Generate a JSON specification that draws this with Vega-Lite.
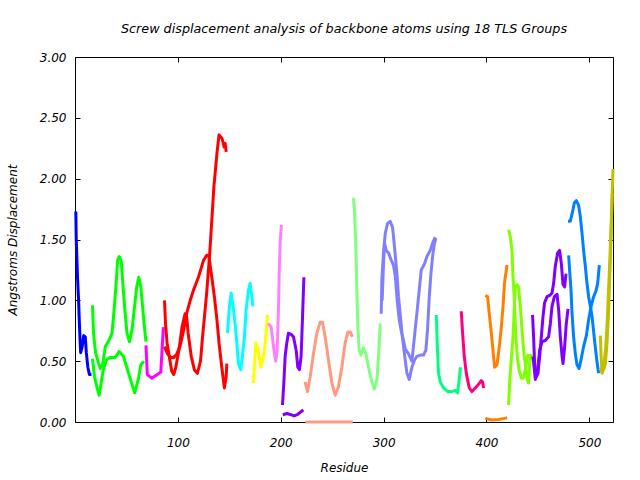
{
  "$schema": "https://vega.github.io/schema/vega-lite/v6.json",
  "autosize": "none",
  "width": 538,
  "height": 365,
  "padding": {"left": 75, "top": 57, "right": 27, "bottom": 58},
  "background": "white",
  "view": {"stroke": "black", "strokeWidth": 1},
  "title": {
    "text": "Screw displacement analysis of backbone atoms using 18 TLS Groups",
    "font": "DejaVu Sans", "fontSize": 12.75, "fontStyle": "italic", "fontWeight": "normal",
    "color": "black", "anchor": "middle", "offset": 15
  },
  "data": {"values": [
    {"g":1,"s":"a","r":0.8,"v":1.73},{"g":1,"s":"a","r":1.2,"v":1.50},{"g":1,"s":"a","r":2.5,"v":1.18},{"g":1,"s":"a","r":3.5,"v":1.00},{"g":1,"s":"a","r":4,"v":0.87},{"g":1,"s":"a","r":5,"v":0.66},{"g":1,"s":"a","r":5.5,"v":0.57},{"g":1,"s":"a","r":7,"v":0.62},{"g":1,"s":"a","r":8.5,"v":0.71},{"g":1,"s":"a","r":10,"v":0.70},{"g":1,"s":"a","r":11,"v":0.57},{"g":1,"s":"a","r":12.5,"v":0.45},{"g":1,"s":"a","r":14,"v":0.39},{"g":1,"s":"a","r":16,"v":0.39},

    {"g":2,"s":"a","r":17,"v":0.96},{"g":2,"s":"a","r":18,"v":0.73},{"g":2,"s":"a","r":20,"v":0.57},{"g":2,"s":"a","r":23,"v":0.48},{"g":2,"s":"a","r":24.5,"v":0.44},{"g":2,"s":"a","r":27,"v":0.48},{"g":2,"s":"a","r":29.5,"v":0.62},{"g":2,"s":"a","r":33,"v":0.67},{"g":2,"s":"a","r":36,"v":0.73},{"g":2,"s":"a","r":38,"v":0.92},{"g":2,"s":"a","r":40,"v":1.14},{"g":2,"s":"a","r":41.5,"v":1.33},{"g":2,"s":"a","r":43,"v":1.36},{"g":2,"s":"a","r":45,"v":1.32},{"g":2,"s":"a","r":46.5,"v":1.14},{"g":2,"s":"a","r":48.5,"v":0.92},{"g":2,"s":"a","r":50.5,"v":0.73},{"g":2,"s":"a","r":53,"v":0.66},{"g":2,"s":"a","r":55.5,"v":0.76},{"g":2,"s":"a","r":57.5,"v":0.92},{"g":2,"s":"a","r":60,"v":1.11},{"g":2,"s":"a","r":62,"v":1.19},{"g":2,"s":"a","r":64,"v":1.11},{"g":2,"s":"a","r":66,"v":0.92},{"g":2,"s":"a","r":67.5,"v":0.78},{"g":2,"s":"a","r":69,"v":0.66},
    {"g":2,"s":"b","r":17,"v":0.52},{"g":2,"s":"b","r":19,"v":0.37},{"g":2,"s":"b","r":21.5,"v":0.28},{"g":2,"s":"b","r":23.5,"v":0.22},{"g":2,"s":"b","r":27.5,"v":0.43},{"g":2,"s":"b","r":30.5,"v":0.51},{"g":2,"s":"b","r":34,"v":0.53},{"g":2,"s":"b","r":39,"v":0.53},{"g":2,"s":"b","r":43,"v":0.58},{"g":2,"s":"b","r":47,"v":0.54},{"g":2,"s":"b","r":51,"v":0.43},{"g":2,"s":"b","r":55,"v":0.32},{"g":2,"s":"b","r":58,"v":0.24},{"g":2,"s":"b","r":61.5,"v":0.35},{"g":2,"s":"b","r":64,"v":0.47},{"g":2,"s":"b","r":67,"v":0.50},

    {"g":3,"s":"a","r":69,"v":0.63},{"g":3,"s":"a","r":70.3,"v":0.39},{"g":3,"s":"a","r":74.6,"v":0.36},{"g":3,"s":"a","r":80,"v":0.39},{"g":3,"s":"a","r":83.4,"v":0.41},{"g":3,"s":"a","r":84.6,"v":0.59},{"g":3,"s":"a","r":85.9,"v":0.78},

    {"g":4,"s":"a","r":87,"v":1.00},{"g":4,"s":"a","r":88,"v":0.81},{"g":4,"s":"a","r":89.5,"v":0.65},{"g":4,"s":"a","r":92,"v":0.52},{"g":4,"s":"a","r":94,"v":0.42},{"g":4,"s":"a","r":96,"v":0.39},{"g":4,"s":"a","r":98,"v":0.45},{"g":4,"s":"a","r":101,"v":0.59},{"g":4,"s":"a","r":104,"v":0.78},{"g":4,"s":"a","r":107,"v":0.89},{"g":4,"s":"a","r":108.5,"v":0.87},{"g":4,"s":"a","r":110,"v":0.73},{"g":4,"s":"a","r":113,"v":0.54},{"g":4,"s":"a","r":116,"v":0.43},{"g":4,"s":"a","r":119,"v":0.40},{"g":4,"s":"a","r":122,"v":0.50},{"g":4,"s":"a","r":124,"v":0.70},{"g":4,"s":"a","r":128,"v":1.06},{"g":4,"s":"a","r":131,"v":1.39},{"g":4,"s":"a","r":133,"v":1.66},{"g":4,"s":"a","r":135,"v":1.93},{"g":4,"s":"a","r":138,"v":2.21},{"g":4,"s":"a","r":140,"v":2.36},{"g":4,"s":"a","r":143,"v":2.33},{"g":4,"s":"a","r":145,"v":2.26},{"g":4,"s":"a","r":146,"v":2.29},{"g":4,"s":"a","r":147,"v":2.22},
    {"g":4,"s":"b","r":87,"v":0.62},{"g":4,"s":"b","r":90,"v":0.56},{"g":4,"s":"b","r":93,"v":0.53},{"g":4,"s":"b","r":96,"v":0.53},{"g":4,"s":"b","r":99,"v":0.56},{"g":4,"s":"b","r":102,"v":0.62},{"g":4,"s":"b","r":105,"v":0.73},{"g":4,"s":"b","r":108.5,"v":0.89},{"g":4,"s":"b","r":112,"v":1.00},{"g":4,"s":"b","r":115,"v":1.08},{"g":4,"s":"b","r":120,"v":1.19},{"g":4,"s":"b","r":125,"v":1.33},{"g":4,"s":"b","r":128,"v":1.37},{"g":4,"s":"b","r":130,"v":1.37},{"g":4,"s":"b","r":133,"v":1.19},{"g":4,"s":"b","r":135.5,"v":1.03},{"g":4,"s":"b","r":138,"v":0.84},{"g":4,"s":"b","r":140,"v":0.65},{"g":4,"s":"b","r":142.7,"v":0.45},{"g":4,"s":"b","r":145.2,"v":0.28},{"g":4,"s":"b","r":146.9,"v":0.37},{"g":4,"s":"b","r":147.6,"v":0.48},

    {"g":5,"s":"a","r":148.2,"v":0.73},{"g":5,"s":"a","r":150.1,"v":0.95},{"g":5,"s":"a","r":151.8,"v":1.06},{"g":5,"s":"a","r":153.4,"v":0.97},{"g":5,"s":"a","r":155.6,"v":0.81},{"g":5,"s":"a","r":157.3,"v":0.65},{"g":5,"s":"a","r":158.9,"v":0.48},{"g":5,"s":"a","r":161.2,"v":0.43},{"g":5,"s":"a","r":162.7,"v":0.54},{"g":5,"s":"a","r":164.7,"v":0.70},{"g":5,"s":"a","r":166.3,"v":0.92},{"g":5,"s":"a","r":168.6,"v":1.08},{"g":5,"s":"a","r":170.2,"v":1.14},{"g":5,"s":"a","r":171.9,"v":1.03},{"g":5,"s":"a","r":172.9,"v":0.95},

    {"g":6,"s":"a","r":173.4,"v":0.32},{"g":6,"s":"a","r":174.4,"v":0.45},{"g":6,"s":"a","r":175.8,"v":0.65},{"g":6,"s":"a","r":177.3,"v":0.62},{"g":6,"s":"a","r":179,"v":0.54},{"g":6,"s":"a","r":180.6,"v":0.45},{"g":6,"s":"a","r":182.6,"v":0.51},{"g":6,"s":"a","r":184.1,"v":0.59},{"g":6,"s":"a","r":185.8,"v":0.73},{"g":6,"s":"a","r":187.1,"v":0.88},

    {"g":7,"s":"a","r":188,"v":0.81},{"g":7,"s":"a","r":190.7,"v":0.78},{"g":7,"s":"a","r":192.3,"v":0.67},{"g":7,"s":"a","r":193.9,"v":0.56},{"g":7,"s":"a","r":195.2,"v":0.50},{"g":7,"s":"a","r":196.5,"v":0.59},{"g":7,"s":"a","r":197.8,"v":0.92},{"g":7,"s":"a","r":198.7,"v":1.30},{"g":7,"s":"a","r":199.7,"v":1.52},{"g":7,"s":"a","r":200.7,"v":1.62},

    {"g":8,"s":"a","r":201.7,"v":0.14},{"g":8,"s":"a","r":203,"v":0.32},{"g":8,"s":"a","r":204.3,"v":0.54},{"g":8,"s":"a","r":205.9,"v":0.65},{"g":8,"s":"a","r":207.5,"v":0.73},{"g":8,"s":"a","r":210.1,"v":0.72},{"g":8,"s":"a","r":212.4,"v":0.70},{"g":8,"s":"a","r":215,"v":0.59},{"g":8,"s":"a","r":216.6,"v":0.45},{"g":8,"s":"a","r":218.2,"v":0.43},{"g":8,"s":"a","r":219.8,"v":0.54},{"g":8,"s":"a","r":221.1,"v":0.84},{"g":8,"s":"a","r":222.5,"v":1.19},
    {"g":8,"s":"b","r":202,"v":0.06},{"g":8,"s":"b","r":206,"v":0.07},{"g":8,"s":"b","r":210,"v":0.06},{"g":8,"s":"b","r":213,"v":0.05},{"g":8,"s":"b","r":216,"v":0.06},{"g":8,"s":"b","r":219,"v":0.08},{"g":8,"s":"b","r":222,"v":0.10},

    {"g":9,"s":"a","r":223.7,"v":0.33},{"g":9,"s":"a","r":226,"v":0.25},{"g":9,"s":"a","r":228.6,"v":0.37},{"g":9,"s":"a","r":231.8,"v":0.56},{"g":9,"s":"a","r":235.1,"v":0.73},{"g":9,"s":"a","r":238.3,"v":0.82},{"g":9,"s":"a","r":240.6,"v":0.82},{"g":9,"s":"a","r":243.2,"v":0.70},{"g":9,"s":"a","r":246.4,"v":0.51},{"g":9,"s":"a","r":249.7,"v":0.32},{"g":9,"s":"a","r":252.9,"v":0.22},{"g":9,"s":"a","r":256.1,"v":0.29},{"g":9,"s":"a","r":259.4,"v":0.45},{"g":9,"s":"a","r":262.6,"v":0.65},{"g":9,"s":"a","r":265.3,"v":0.74},{"g":9,"s":"a","r":267.5,"v":0.74},{"g":9,"s":"a","r":269.7,"v":0.70},
    {"g":9,"s":"b","r":224,"v":0.0},{"g":9,"s":"b","r":247,"v":0.0},{"g":9,"s":"b","r":270,"v":0.0},

    {"g":10,"s":"a","r":270.7,"v":1.84},{"g":10,"s":"a","r":271.7,"v":1.74},{"g":10,"s":"a","r":273,"v":1.44},{"g":10,"s":"a","r":274,"v":1.08},{"g":10,"s":"a","r":275,"v":0.78},{"g":10,"s":"a","r":276.3,"v":0.59},{"g":10,"s":"a","r":277.9,"v":0.55},{"g":10,"s":"a","r":280.4,"v":0.61},{"g":10,"s":"a","r":282.8,"v":0.56},{"g":10,"s":"a","r":285.3,"v":0.45},{"g":10,"s":"a","r":287.9,"v":0.35},{"g":10,"s":"a","r":290.9,"v":0.27},{"g":10,"s":"a","r":293.5,"v":0.35},{"g":10,"s":"a","r":295.1,"v":0.54},{"g":10,"s":"a","r":296.7,"v":0.81},

    {"g":11,"s":"a","r":297.7,"v":0.89},{"g":11,"s":"a","r":298.3,"v":1.17},{"g":11,"s":"a","r":299.9,"v":1.39},{"g":11,"s":"a","r":301.6,"v":1.55},{"g":11,"s":"a","r":303.8,"v":1.63},{"g":11,"s":"a","r":306.4,"v":1.65},{"g":11,"s":"a","r":308.7,"v":1.60},{"g":11,"s":"a","r":310.6,"v":1.44},{"g":11,"s":"a","r":312.9,"v":1.22},{"g":11,"s":"a","r":314.5,"v":1.03},{"g":11,"s":"a","r":316.1,"v":0.89},{"g":11,"s":"a","r":317.8,"v":0.73},{"g":11,"s":"a","r":319.4,"v":0.62},{"g":11,"s":"a","r":321,"v":0.51},{"g":11,"s":"a","r":322.7,"v":0.40},{"g":11,"s":"a","r":324.9,"v":0.35},{"g":11,"s":"a","r":327.5,"v":0.45},{"g":11,"s":"a","r":330.1,"v":0.51},{"g":11,"s":"a","r":332.4,"v":0.54},{"g":11,"s":"a","r":335.6,"v":0.55},{"g":11,"s":"a","r":338.8,"v":0.55},{"g":11,"s":"a","r":341.1,"v":0.59},{"g":11,"s":"a","r":342.7,"v":0.76},{"g":11,"s":"a","r":344.4,"v":1.03},{"g":11,"s":"a","r":346,"v":1.22},{"g":11,"s":"a","r":347.6,"v":1.36},{"g":11,"s":"a","r":349.5,"v":1.47},{"g":11,"s":"a","r":350.9,"v":1.51},
    {"g":11,"s":"b","r":298.6,"v":1.00},{"g":11,"s":"b","r":299.9,"v":1.30},{"g":11,"s":"b","r":300.9,"v":1.47},{"g":11,"s":"b","r":302.5,"v":1.41},{"g":11,"s":"b","r":304.8,"v":1.39},{"g":11,"s":"b","r":307.4,"v":1.33},{"g":11,"s":"b","r":309.6,"v":1.29},{"g":11,"s":"b","r":311.3,"v":1.20},{"g":11,"s":"b","r":313.2,"v":1.00},{"g":11,"s":"b","r":315.2,"v":0.84},{"g":11,"s":"b","r":317.1,"v":0.75},{"g":11,"s":"b","r":319.4,"v":0.67},{"g":11,"s":"b","r":321,"v":0.60},{"g":11,"s":"b","r":324.2,"v":0.56},{"g":11,"s":"b","r":327.5,"v":0.50},{"g":11,"s":"b","r":330.7,"v":0.76},{"g":11,"s":"b","r":334,"v":1.03},{"g":11,"s":"b","r":336.6,"v":1.25},{"g":11,"s":"b","r":339.8,"v":1.30},{"g":11,"s":"b","r":342.1,"v":1.36},{"g":11,"s":"b","r":345.3,"v":1.41},{"g":11,"s":"b","r":347.6,"v":1.47},{"g":11,"s":"b","r":350.2,"v":1.52},

    {"g":12,"s":"a","r":351.2,"v":0.88},{"g":12,"s":"a","r":352.1,"v":0.65},{"g":12,"s":"a","r":353.4,"v":0.40},{"g":12,"s":"a","r":355.1,"v":0.33},{"g":12,"s":"a","r":358.3,"v":0.28},{"g":12,"s":"a","r":362.5,"v":0.25},{"g":12,"s":"a","r":366.4,"v":0.25},{"g":12,"s":"a","r":369.6,"v":0.26},{"g":12,"s":"a","r":371.9,"v":0.24},{"g":12,"s":"a","r":373.5,"v":0.35},{"g":12,"s":"a","r":374.8,"v":0.45},

    {"g":13,"s":"a","r":375.5,"v":0.91},{"g":13,"s":"a","r":376.8,"v":0.73},{"g":13,"s":"a","r":378.4,"v":0.54},{"g":13,"s":"a","r":380.4,"v":0.40},{"g":13,"s":"a","r":383.3,"v":0.28},{"g":13,"s":"a","r":385.9,"v":0.25},{"g":13,"s":"a","r":389.1,"v":0.28},{"g":13,"s":"a","r":392.3,"v":0.31},{"g":13,"s":"a","r":394.9,"v":0.34},{"g":13,"s":"a","r":396.2,"v":0.33},{"g":13,"s":"a","r":397.2,"v":0.28},

    {"g":14,"s":"a","r":398.8,"v":1.04},{"g":14,"s":"a","r":401.1,"v":1.03},{"g":14,"s":"a","r":402.7,"v":0.89},{"g":14,"s":"a","r":404.4,"v":0.76},{"g":14,"s":"a","r":406.3,"v":0.59},{"g":14,"s":"a","r":407.9,"v":0.45},{"g":14,"s":"a","r":410.2,"v":0.47},{"g":14,"s":"a","r":412.5,"v":0.62},{"g":14,"s":"a","r":414.4,"v":0.78},{"g":14,"s":"a","r":416.1,"v":0.95},{"g":14,"s":"a","r":417.6,"v":1.15},{"g":14,"s":"a","r":420,"v":1.29},
    {"g":14,"s":"b","r":398.8,"v":0.03},{"g":14,"s":"b","r":405,"v":0.016},{"g":14,"s":"b","r":411.5,"v":0.02},{"g":14,"s":"b","r":417.6,"v":0.03},{"g":14,"s":"b","r":420,"v":0.035},

    {"g":15,"s":"a","r":421.5,"v":1.58},{"g":15,"s":"a","r":423.2,"v":1.52},{"g":15,"s":"a","r":424.8,"v":1.41},{"g":15,"s":"a","r":425.8,"v":1.19},{"g":15,"s":"a","r":427,"v":1.03},{"g":15,"s":"a","r":428,"v":0.81},{"g":15,"s":"a","r":429,"v":0.65},{"g":15,"s":"a","r":430.2,"v":0.51},{"g":15,"s":"a","r":432.2,"v":0.41},{"g":15,"s":"a","r":433.9,"v":0.36},{"g":15,"s":"a","r":435.6,"v":0.36},{"g":15,"s":"a","r":436.8,"v":0.39},{"g":15,"s":"a","r":438.7,"v":0.48},{"g":15,"s":"a","r":440.4,"v":0.56},
    {"g":15,"s":"b","r":421.5,"v":0.14},{"g":15,"s":"b","r":422.5,"v":0.32},{"g":15,"s":"b","r":423.8,"v":0.48},{"g":15,"s":"b","r":425.8,"v":0.70},{"g":15,"s":"b","r":427,"v":0.92},{"g":15,"s":"b","r":428,"v":1.11},{"g":15,"s":"b","r":429.7,"v":1.13},{"g":15,"s":"b","r":431.2,"v":1.11},{"g":15,"s":"b","r":432.9,"v":0.95},{"g":15,"s":"b","r":434.5,"v":0.76},{"g":15,"s":"b","r":436.1,"v":0.59},{"g":15,"s":"b","r":437.7,"v":0.48},{"g":15,"s":"b","r":439.4,"v":0.35},{"g":15,"s":"b","r":440.9,"v":0.32},{"g":15,"s":"b","r":441.9,"v":0.48},{"g":15,"s":"b","r":443.3,"v":0.56},

    {"g":16,"s":"a","r":444.8,"v":0.88},{"g":16,"s":"a","r":445.8,"v":0.70},{"g":16,"s":"a","r":446.8,"v":0.48},{"g":16,"s":"a","r":448.4,"v":0.37},{"g":16,"s":"a","r":450.1,"v":0.40},{"g":16,"s":"a","r":451.7,"v":0.54},{"g":16,"s":"a","r":453.3,"v":0.70},{"g":16,"s":"a","r":455,"v":0.87},{"g":16,"s":"a","r":456.5,"v":0.98},{"g":16,"s":"a","r":458.9,"v":1.03},{"g":16,"s":"a","r":461.4,"v":1.04},{"g":16,"s":"a","r":463.7,"v":1.06},{"g":16,"s":"a","r":465.3,"v":1.14},{"g":16,"s":"a","r":466.9,"v":1.28},{"g":16,"s":"a","r":469.2,"v":1.39},{"g":16,"s":"a","r":471.1,"v":1.41},{"g":16,"s":"a","r":472.8,"v":1.30},{"g":16,"s":"a","r":474.4,"v":1.13},{"g":16,"s":"a","r":476,"v":1.11},{"g":16,"s":"a","r":477.3,"v":1.22},
    {"g":16,"s":"b","r":445.2,"v":0.54},{"g":16,"s":"b","r":447.5,"v":0.35},{"g":16,"s":"b","r":449.7,"v":0.43},{"g":16,"s":"b","r":451.7,"v":0.59},{"g":16,"s":"b","r":454.1,"v":0.66},{"g":16,"s":"b","r":457.2,"v":0.67},{"g":16,"s":"b","r":460.4,"v":0.70},{"g":16,"s":"b","r":462.1,"v":0.81},{"g":16,"s":"b","r":463.7,"v":0.95},{"g":16,"s":"b","r":466,"v":1.03},{"g":16,"s":"b","r":468.6,"v":1.05},{"g":16,"s":"b","r":470.2,"v":0.92},{"g":16,"s":"b","r":471.8,"v":0.70},{"g":16,"s":"b","r":473.5,"v":0.54},{"g":16,"s":"b","r":474.4,"v":0.48},{"g":16,"s":"b","r":476,"v":0.62},{"g":16,"s":"b","r":477.6,"v":0.81},{"g":16,"s":"b","r":479.3,"v":0.93},

    {"g":17,"s":"a","r":479.3,"v":1.65},{"g":17,"s":"a","r":481.5,"v":1.65},{"g":17,"s":"a","r":483.2,"v":1.71},{"g":17,"s":"a","r":485.4,"v":1.80},{"g":17,"s":"a","r":487.4,"v":1.82},{"g":17,"s":"a","r":489.6,"v":1.78},{"g":17,"s":"a","r":491.2,"v":1.69},{"g":17,"s":"a","r":492.9,"v":1.55},{"g":17,"s":"a","r":494.4,"v":1.41},{"g":17,"s":"a","r":496.1,"v":1.28},{"g":17,"s":"a","r":497.7,"v":1.14},{"g":17,"s":"a","r":499.3,"v":1.03},{"g":17,"s":"a","r":501,"v":0.95},{"g":17,"s":"a","r":502.6,"v":0.87},{"g":17,"s":"a","r":505.2,"v":0.66},{"g":17,"s":"a","r":506.8,"v":0.54},{"g":17,"s":"a","r":508.5,"v":0.43},{"g":17,"s":"a","r":509.1,"v":0.40},
    {"g":17,"s":"b","r":479.9,"v":1.37},{"g":17,"s":"b","r":480.8,"v":1.25},{"g":17,"s":"b","r":482.2,"v":1.08},{"g":17,"s":"b","r":483.2,"v":0.89},{"g":17,"s":"b","r":484.7,"v":0.70},{"g":17,"s":"b","r":486.4,"v":0.56},{"g":17,"s":"b","r":488,"v":0.47},{"g":17,"s":"b","r":490,"v":0.44},{"g":17,"s":"b","r":491.9,"v":0.51},{"g":17,"s":"b","r":494.4,"v":0.62},{"g":17,"s":"b","r":497.1,"v":0.71},{"g":17,"s":"b","r":499.3,"v":0.84},{"g":17,"s":"b","r":501.7,"v":0.95},{"g":17,"s":"b","r":504.2,"v":1.03},{"g":17,"s":"b","r":506.5,"v":1.08},{"g":17,"s":"b","r":508.1,"v":1.14},{"g":17,"s":"b","r":509.7,"v":1.29},

    {"g":18,"s":"a","r":510.7,"v":0.71},{"g":18,"s":"a","r":511.4,"v":0.54},{"g":18,"s":"a","r":512.4,"v":0.41},{"g":18,"s":"a","r":513.9,"v":0.43},{"g":18,"s":"a","r":515.6,"v":0.48},{"g":18,"s":"a","r":517.2,"v":0.65},{"g":18,"s":"a","r":518.8,"v":0.92},{"g":18,"s":"a","r":520.4,"v":1.33},{"g":18,"s":"a","r":522.1,"v":1.85},{"g":18,"s":"a","r":523,"v":2.08},
    {"g":18,"s":"b","r":510.7,"v":0.45},{"g":18,"s":"b","r":512.4,"v":0.40},{"g":18,"s":"b","r":514.5,"v":0.50},{"g":18,"s":"b","r":516,"v":0.62},{"g":18,"s":"b","r":517.5,"v":0.85},{"g":18,"s":"b","r":519,"v":1.15},{"g":18,"s":"b","r":520.5,"v":1.45},{"g":18,"s":"b","r":521.5,"v":1.70},{"g":18,"s":"b","r":522.3,"v":1.88}
  ]},
  "layer": [
    {
      "mark": {"type": "line", "strokeWidth": 3, "strokeJoin": "round", "strokeCap": "butt"},
      "encoding": {
        "x": {"field": "r", "type": "quantitative",
          "scale": {"domain": [0, 523], "nice": false, "zero": false},
          "axis": {"title": "Residue", "values": [100, 200, 300, 400, 500], "format": "d", "grid": false, "domain": false,
            "tickSize": -5, "tickColor": "black", "labelPadding": 20,
            "labelFont": "DejaVu Sans", "labelFontSize": 12, "labelFontStyle": "italic", "labelColor": "black",
            "titleFont": "DejaVu Sans", "titleFontSize": 12, "titleFontStyle": "italic", "titleFontWeight": "normal", "titleColor": "black", "titlePadding": 14}},
        "y": {"field": "v", "type": "quantitative",
          "scale": {"domain": [0, 3], "nice": false},
          "axis": {"title": "Angstroms Displacement", "values": [0, 0.5, 1, 1.5, 2, 2.5, 3], "format": ".2f", "grid": false, "domain": false,
            "tickSize": -5, "tickColor": "black", "labelPadding": 14,
            "labelFont": "DejaVu Sans", "labelFontSize": 12, "labelFontStyle": "italic", "labelColor": "black",
            "titleFont": "DejaVu Sans", "titleFontSize": 12, "titleFontStyle": "italic", "titleFontWeight": "normal", "titleColor": "black", "titlePadding": 20}},
        "color": {"field": "g", "type": "nominal", "legend": null,
          "scale": {"domain": [1,2,3,4,5,6,7,8,9,10,11,12,13,14,15,16,17,18],
            "range": ["#0000ff","#00ff00","#ff00ff","#ff0000","#00ffff","#ffff00","#ff80ff","#8000ff","#ff9980","#80ff80","#8080ff","#00ff80","#ff0080","#ff8000","#80ff00","#8000ff","#0080ff","#c0c000"]}},
        "detail": [{"field": "g", "type": "nominal"}, {"field": "s", "type": "nominal"}]
      }
    },
    {
      "mark": {"type": "line", "strokeOpacity": 0},
      "encoding": {
        "x": {"field": "r", "type": "quantitative",
          "scale": {"domain": [0, 523], "nice": false, "zero": false},
          "axis": {"orient": "top", "title": null, "labels": false, "values": [100, 200, 300, 400, 500], "grid": false, "domain": false, "tickSize": -5, "tickColor": "black"}},
        "y": {"field": "v", "type": "quantitative",
          "scale": {"domain": [0, 3], "nice": false},
          "axis": {"orient": "right", "title": null, "labels": false, "values": [0, 0.5, 1, 1.5, 2, 2.5, 3], "grid": false, "domain": false, "tickSize": -5, "tickColor": "black"}},
        "detail": [{"field": "g", "type": "nominal"}, {"field": "s", "type": "nominal"}]
      }
    }
  ],
  "resolve": {"axis": {"x": "independent", "y": "independent"}}
}
